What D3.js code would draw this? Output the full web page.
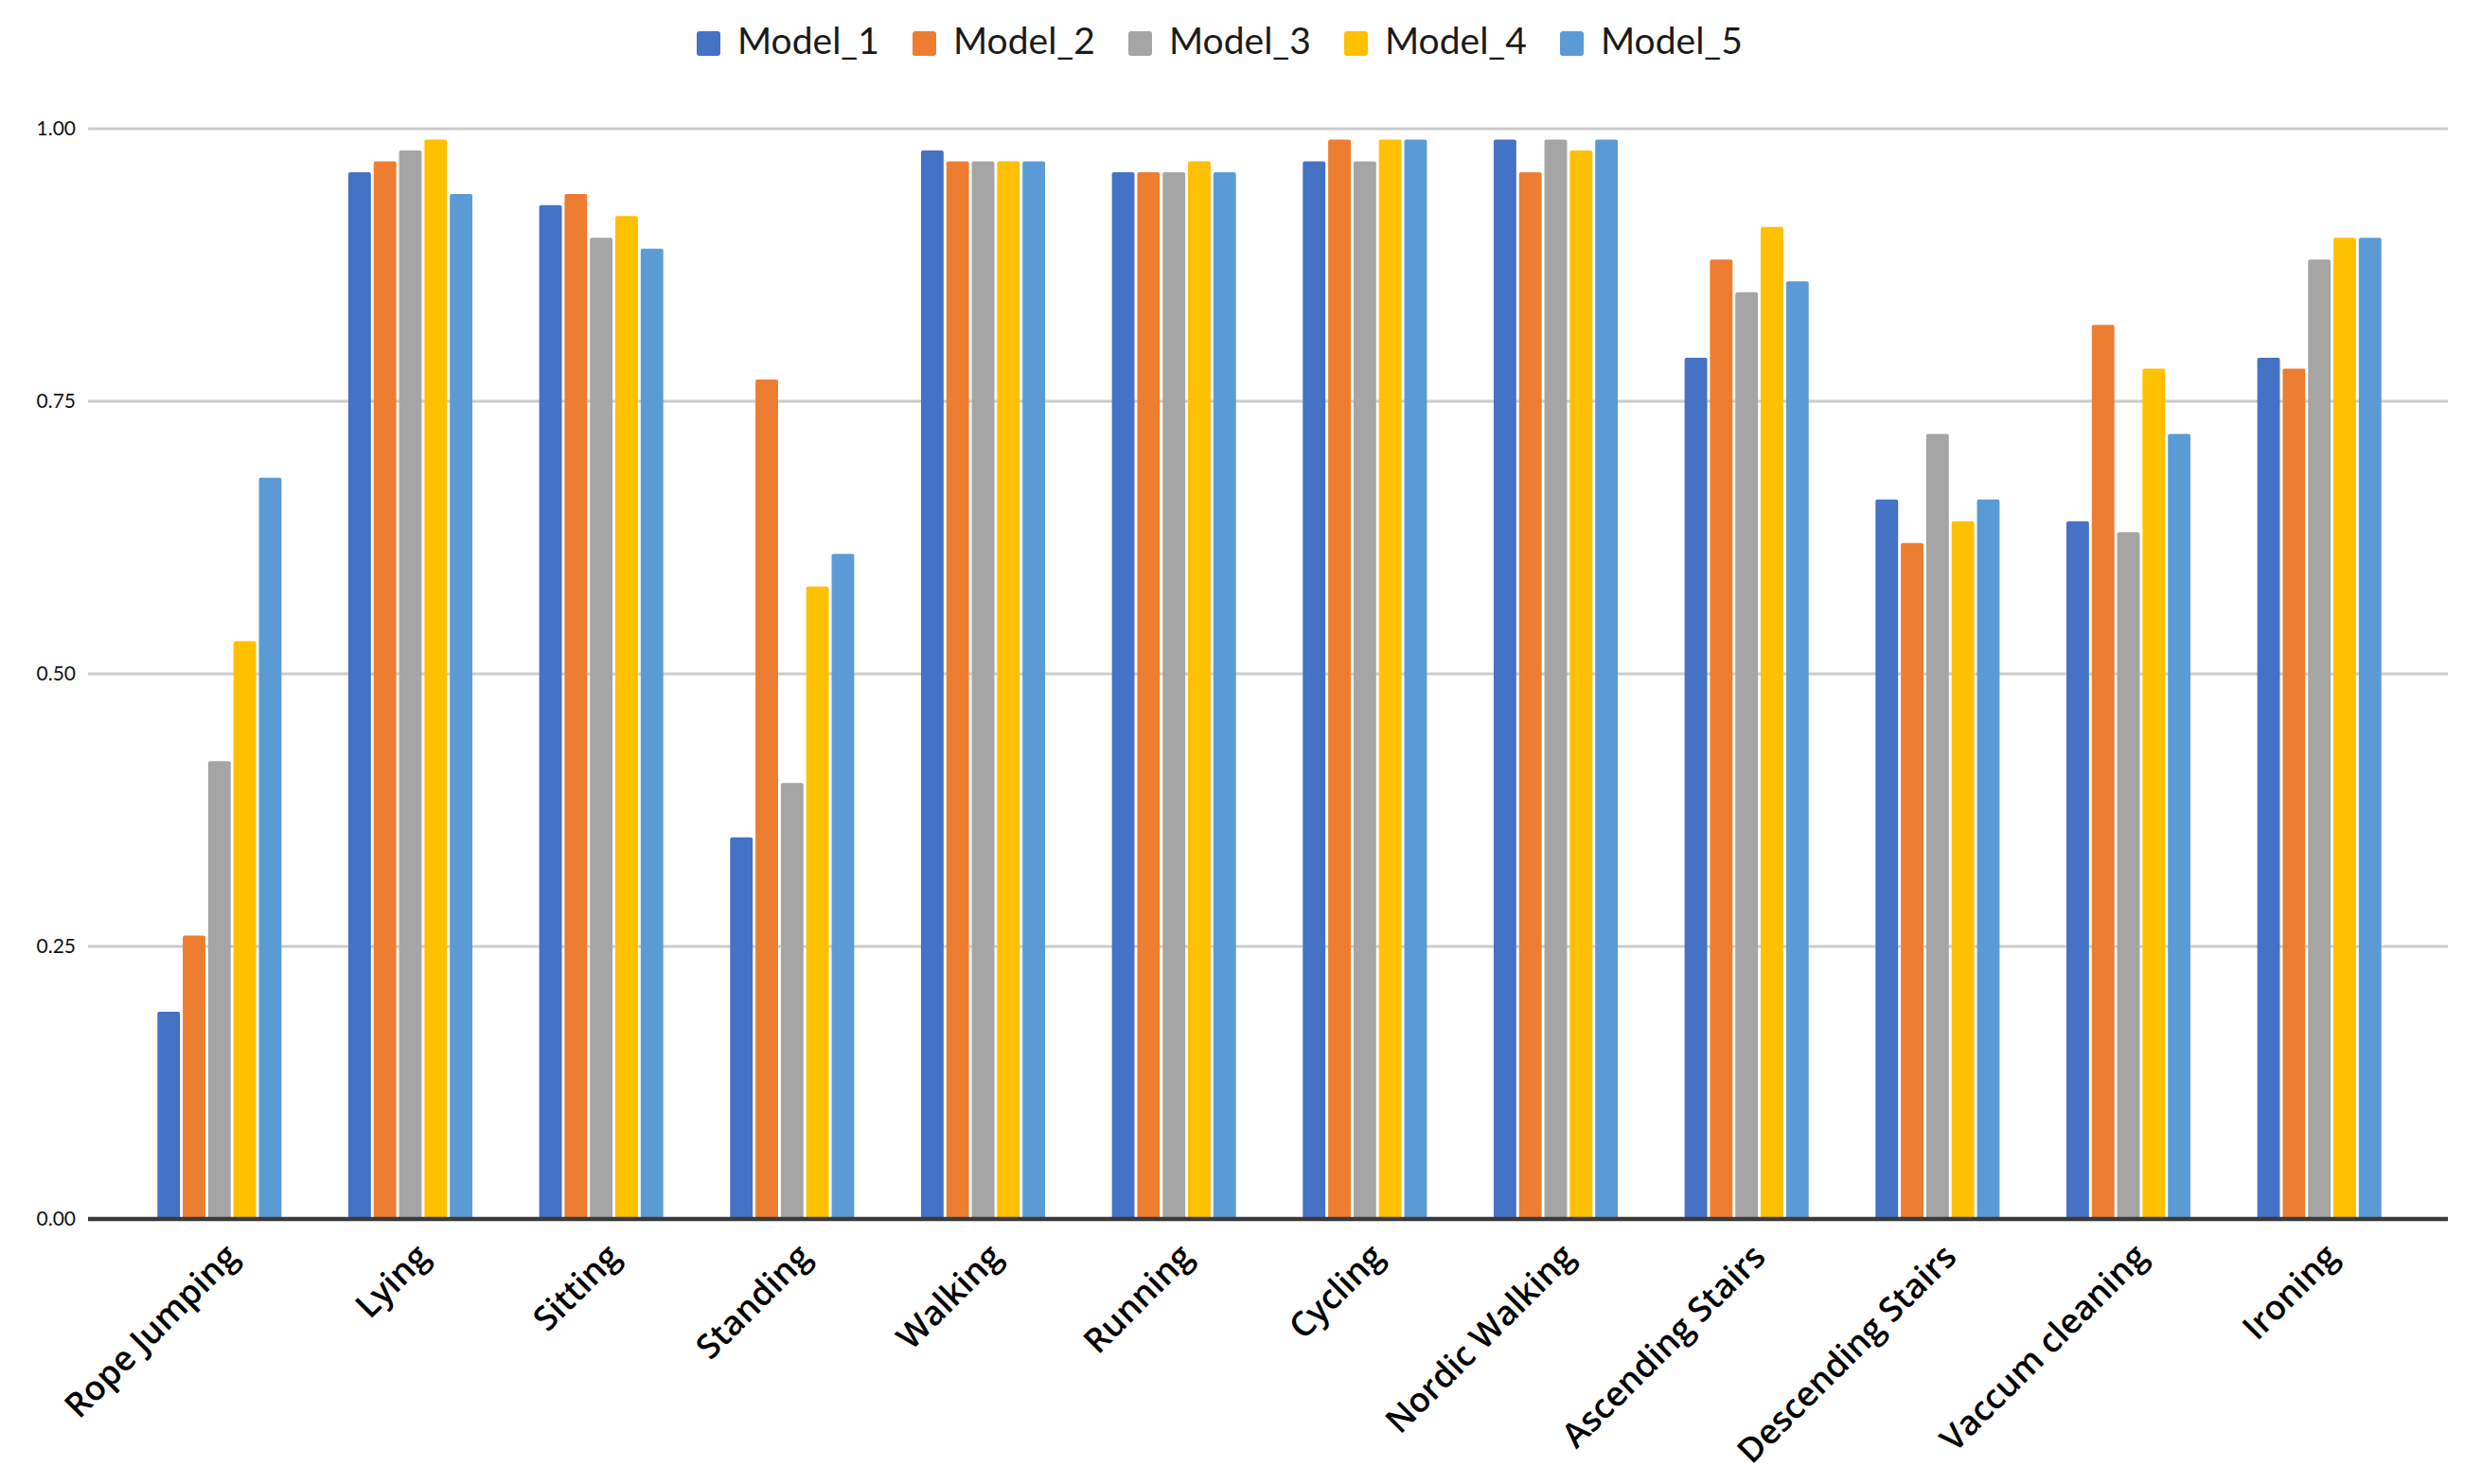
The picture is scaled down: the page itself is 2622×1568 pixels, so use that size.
<!DOCTYPE html>
<html>
<head>
<meta charset="utf-8">
<script src="https://cdn.jsdelivr.net/npm/d3@7"></script>
<style>
  body { margin: 0; background: #fff; }
</style>
</head>
<body>
<div id="chart"></div>
<script>
var categories = ["Rope Jumping", "Lying", "Sitting", "Standing", "Walking", "Running",
  "Cycling", "Nordic Walking", "Ascending Stairs", "Descending Stairs", "Vaccum cleaning", "Ironing"];
var models = ["Model_1", "Model_2", "Model_3", "Model_4", "Model_5"];
var colors = ["#4472C4", "#ED7D31", "#A5A5A5", "#FFC000", "#5B9BD5"];

var model1 = [0.19, 0.96, 0.93, 0.35, 0.98, 0.96, 0.97, 0.99, 0.79, 0.66, 0.64, 0.79];
var model2 = [0.26, 0.97, 0.94, 0.77, 0.97, 0.96, 0.99, 0.96, 0.88, 0.62, 0.82, 0.78];
var model3 = [0.42, 0.98, 0.90, 0.40, 0.97, 0.96, 0.97, 0.99, 0.85, 0.72, 0.63, 0.88];
var model4 = [0.53, 0.99, 0.92, 0.58, 0.97, 0.97, 0.99, 0.98, 0.91, 0.64, 0.78, 0.90];
var model5 = [0.68, 0.94, 0.89, 0.61, 0.97, 0.96, 0.99, 0.99, 0.86, 0.66, 0.72, 0.90];
var yTicks = [0, 0.25, 0.5, 0.75, 1];

var series = [model1, model2, model3, model4, model5];

var svgWidth = 2622;
var svgHeight = 1568;

var svg = d3.select("#chart")
  .append("svg")
  .attr("width", svgWidth)
  .attr("height", svgHeight);

var plotLeft = 93, plotRight = 2586;

var x0 = d3.scaleBand()
  .domain(categories)
  .range([131, 2551])
  .paddingInner(0.35)
  .paddingOuter(0.175);

var x1 = d3.scaleBand()
  .domain(models)
  .range([0, x0.bandwidth()])
  .paddingInner(0.11);

var y = d3.scaleLinear()
  .domain([0, 1])
  .range([1288, 136]);

// grid lines
svg.append("g")
  .selectAll("line")
  .data(yTicks.filter(function(d) { return d > 0; }))
  .enter()
  .append("line")
  .attr("x1", plotLeft)
  .attr("x2", plotRight)
  .attr("y1", function(d) { return y(d); })
  .attr("y2", function(d) { return y(d); })
  .attr("stroke", "#cccccc")
  .attr("stroke-width", 3);

// y axis labels
var yAxis = svg.append("g")
  .attr("transform", "translate(" + plotLeft + ",0)")
  .call(d3.axisLeft(y).tickValues(yTicks).tickFormat(d3.format(".2f")).tickSize(0).tickPadding(13));
yAxis.select(".domain").remove();
yAxis.selectAll("text")
  .attr("font-family", "Lato, sans-serif")
  .attr("font-size", 21)
  .attr("fill", "#111");

// bars
var groups = svg.append("g")
  .selectAll("g")
  .data(categories)
  .enter()
  .append("g")
  .attr("transform", function(d) { return "translate(" + x0(d) + ",0)"; });

groups.selectAll("rect")
  .data(function(d, i) {
    return models.map(function(m, j) { return { model: m, value: series[j][i], idx: j }; });
  })
  .enter()
  .append("rect")
  .attr("x", function(d) { return x1(d.model); })
  .attr("y", function(d) { return y(d.value); })
  .attr("width", x1.bandwidth())
  .attr("height", function(d) { return y(0) - y(d.value); })
  .attr("rx", 2)
  .attr("fill", function(d) { return colors[d.idx]; });

// x axis
var xAxis = svg.append("g")
  .attr("transform", "translate(0," + y(0) + ")")
  .call(d3.axisBottom(x0).tickSize(0));
xAxis.select(".domain").remove();
xAxis.selectAll("text")
  .attr("x", 0)
  .attr("y", 0)
  .attr("dy", 0)
  .attr("transform", "translate(22,42) rotate(-45)")
  .attr("text-anchor", "end")
  .attr("font-family", "'Open Sans', sans-serif")
  .attr("font-weight", 600)
  .attr("font-size", 36)
  .attr("fill", "#000");

svg.append("line")
  .attr("x1", plotLeft)
  .attr("x2", plotRight)
  .attr("y1", y(0))
  .attr("y2", y(0))
  .attr("stroke", "#3a3a3a")
  .attr("stroke-width", 4.5);

// legend
var legend = svg.append("g")
  .selectAll("g")
  .data(models)
  .enter()
  .append("g")
  .attr("transform", function(d, i) { return "translate(" + (736 + i * 228) + ",33)"; });

legend.append("rect")
  .attr("width", 25)
  .attr("height", 26)
  .attr("rx", 3)
  .attr("fill", function(d, i) { return colors[i]; });

legend.append("text")
  .attr("x", 43)
  .attr("y", 24)
  .attr("font-family", "Lato, sans-serif")
  .attr("font-size", 39)
  .attr("fill", "#1a1a1a")
  .text(function(d) { return d; });
</script>
</body>
</html>
